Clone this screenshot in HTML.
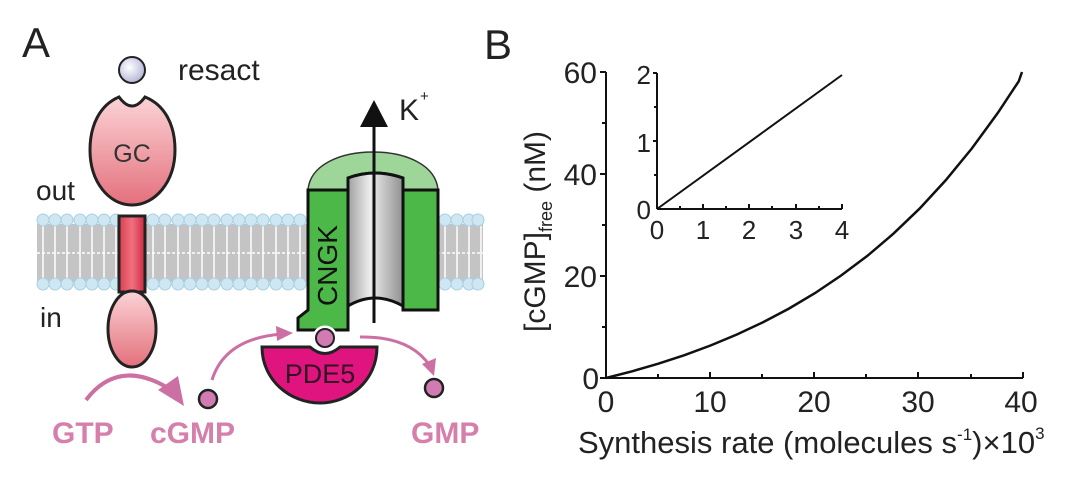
<!DOCTYPE html>
<html><head><meta charset="utf-8"><style>
html,body{margin:0;padding:0;background:#fff;}
svg{display:block;font-family:"Liberation Sans",Arial,sans-serif;}
</style></head><body>
<svg width="1088" height="480" viewBox="0 0 1088 480" xmlns="http://www.w3.org/2000/svg">
<defs>
<linearGradient id="gc" x1="0" y1="0" x2="0" y2="1"><stop offset="0" stop-color="#fbd3d6"/><stop offset="1" stop-color="#e4707c"/></linearGradient>
<linearGradient id="tm" x1="0" y1="0" x2="1" y2="0"><stop offset="0" stop-color="#d8404e"/><stop offset="0.5" stop-color="#f07080"/><stop offset="1" stop-color="#d02840"/></linearGradient>
<linearGradient id="pore" x1="0" y1="0" x2="1" y2="0"><stop offset="0" stop-color="#a0a0a0"/><stop offset="0.4" stop-color="#eeeeee"/><stop offset="1" stop-color="#909090"/></linearGradient>
<radialGradient id="res" cx="0.4" cy="0.4" r="0.6"><stop offset="0" stop-color="#ffffff"/><stop offset="1" stop-color="#b8b8d8"/></radialGradient>
</defs>

<text x="22" y="57" font-size="42" fill="#222">A</text>
<text x="484" y="59" font-size="42" fill="#222">B</text>

<!-- membrane -->
<rect x="37" y="224" width="446" height="58" fill="#c4c4c4"/>
<g stroke="#fff" stroke-width="1.5">
<path d="M43 226 V280 M55 226 V280 M67 226 V280 M80 226 V280 M92 226 V280 M104 226 V280 M116 226 V280 M153 226 V280 M165 226 V280 M178 226 V280 M190 226 V280 M202 226 V280 M214 226 V280 M227 226 V280 M239 226 V280 M251 226 V280 M263 226 V280 M276 226 V280 M288 226 V280 M300 226 V280 M445 226 V280 M457 226 V280 M469 226 V280 M481 226 V280"/>
</g>
<line x1="37" y1="253" x2="483" y2="253" stroke="#fff" stroke-width="1.5" stroke-dasharray="3,2"/>
<g fill="#cfe7f3" stroke="#a8cfe2" stroke-width="1">
<circle cx="43" cy="220" r="6"/><circle cx="55" cy="220" r="6"/><circle cx="67" cy="220" r="6"/><circle cx="80" cy="220" r="6"/><circle cx="92" cy="220" r="6"/><circle cx="104" cy="220" r="6"/><circle cx="116" cy="220" r="6"/><circle cx="153" cy="220" r="6"/><circle cx="165" cy="220" r="6"/><circle cx="178" cy="220" r="6"/><circle cx="190" cy="220" r="6"/><circle cx="202" cy="220" r="6"/><circle cx="214" cy="220" r="6"/><circle cx="227" cy="220" r="6"/><circle cx="239" cy="220" r="6"/><circle cx="251" cy="220" r="6"/><circle cx="263" cy="220" r="6"/><circle cx="276" cy="220" r="6"/><circle cx="288" cy="220" r="6"/><circle cx="300" cy="220" r="6"/><circle cx="445" cy="220" r="6"/><circle cx="457" cy="220" r="6"/><circle cx="469" cy="220" r="6"/><circle cx="478" cy="220" r="6"/>
<circle cx="43" cy="284" r="6"/><circle cx="55" cy="284" r="6"/><circle cx="67" cy="284" r="6"/><circle cx="80" cy="284" r="6"/><circle cx="92" cy="284" r="6"/><circle cx="104" cy="284" r="6"/><circle cx="116" cy="284" r="6"/><circle cx="153" cy="284" r="6"/><circle cx="165" cy="284" r="6"/><circle cx="178" cy="284" r="6"/><circle cx="190" cy="284" r="6"/><circle cx="202" cy="284" r="6"/><circle cx="214" cy="284" r="6"/><circle cx="227" cy="284" r="6"/><circle cx="239" cy="284" r="6"/><circle cx="251" cy="284" r="6"/><circle cx="263" cy="284" r="6"/><circle cx="276" cy="284" r="6"/><circle cx="288" cy="284" r="6"/><circle cx="300" cy="284" r="6"/><circle cx="445" cy="284" r="6"/><circle cx="457" cy="284" r="6"/><circle cx="469" cy="284" r="6"/><circle cx="478" cy="284" r="6"/>
</g>

<!-- GC -->
<circle cx="132" cy="70" r="13" fill="url(#res)" stroke="#222" stroke-width="2"/>
<text x="178" y="80" font-size="30" fill="#222">resact</text>
<path d="M119,97 Q132,115 145,97 C165,105 175,125 175,150 C175,182 155,205 132,205 C109,205 90,182 90,150 C90,125 100,105 119,97 Z" fill="url(#gc)" stroke="#222" stroke-width="3"/>
<text x="132" y="162" font-size="25" fill="#333" text-anchor="middle">GC</text>
<text x="36" y="200" font-size="28" fill="#222">out</text>
<text x="40" y="327" font-size="28" fill="#222">in</text>
<rect x="119" y="216" width="26" height="76" fill="url(#tm)" stroke="#222" stroke-width="3"/>
<ellipse cx="132" cy="329" rx="24" ry="38" fill="url(#gc)" stroke="#222" stroke-width="3"/>

<!-- CNGK -->
<path d="M308,190 C310,165 340,152 373,152 C406,152 436,165 438,190 Z" fill="#9ed69a" stroke="#333" stroke-width="1.5"/>
<path d="M308,190 H348 V178 Q375,168 403,178 V190 H438" fill="none" stroke="#111" stroke-width="3"/>
<path d="M348,190 V178 Q375,168 403,178 V306 Q375,290 348,306 Z" fill="url(#pore)" stroke="#111" stroke-width="3"/>
<path d="M308,190 H348 V330 H298 V318 L308,310 Z" fill="#4cb848" stroke="#111" stroke-width="3"/>
<rect x="403" y="190" width="35" height="120" fill="#4cb848" stroke="#111" stroke-width="3"/>
<text transform="translate(337,306) rotate(-90)" font-size="28" fill="#111">CNGK</text>
<line x1="374" y1="323" x2="374" y2="125" stroke="#111" stroke-width="3"/>
<path d="M360,127 L374,100 L388,127 Z" fill="#111"/>
<text x="399" y="120" font-size="30" fill="#222">K</text>
<text x="420" y="101" font-size="15" fill="#222">+</text>

<!-- PDE5 -->
<path d="M262,347 H310 Q325,360 340,347 H377 C377,380 350,403 320,403 C290,403 262,380 262,347 Z" fill="#e0147e" stroke="#222" stroke-width="3"/>
<text x="320" y="383" font-size="27" fill="#331022" text-anchor="middle">PDE5</text>
<circle cx="325" cy="338" r="11" fill="#d27bb3" stroke="#fff" stroke-width="3"/>
<circle cx="325" cy="338" r="9" fill="#d27bb3" stroke="#222" stroke-width="2"/>

<!-- arrows -->
<path d="M86,400 Q118,358 168,388" fill="none" stroke="#cc6fa2" stroke-width="4"/>
<path d="M158,390 L184,406 L178,376 Z" fill="#cc6fa2"/>
<path d="M212,380 Q225,338 283,334" fill="none" stroke="#cc6fa2" stroke-width="3"/>
<path d="M276,326 L293,333 L277,341 Z" fill="#cc6fa2"/>
<path d="M360,337 Q410,336 430,366" fill="none" stroke="#cc6fa2" stroke-width="3"/>
<path d="M422,364 L434,376 L436,358 Z" fill="#cc6fa2"/>
<circle cx="208" cy="399" r="9" fill="#d27bb3" stroke="#222" stroke-width="2.5"/>
<circle cx="434" cy="388" r="9" fill="#d27bb3" stroke="#222" stroke-width="2.5"/>
<g font-size="30" font-weight="bold" fill="#d67fab">
<text x="52" y="443">GTP</text><text x="150" y="443">cGMP</text><text x="411" y="443">GMP</text>
</g>

<!-- Panel B -->
<g stroke="#111" stroke-width="2" fill="none">
<line x1="606" y1="72" x2="606" y2="378"/>
<line x1="606" y1="378" x2="1023" y2="378"/>
<path d="M600,72 H606 M600,174 H606 M600,276 H606 M600,378 H606 M602,123 H606 M602,225 H606 M602,327 H606"/>
<path d="M710,378 V372 M814,378 V372 M918,378 V372 M1023,378 V372 M658,378 V374 M762,378 V374 M866,378 V374 M971,378 V374"/>
<path d="M606,378 L632.1,371.3 L658.3,363.7 L684.4,355.2 L710.5,345.5 L736.6,334.6 L762.8,322.4 L788.9,308.6 L815,293.1 L841.1,275.5 L867.3,255.9 L893.4,233.7 L919.5,208.7 L945.6,180.4 L971.8,148.5 L997.9,112.8 L1018.8,81.2 L1022,72" stroke-width="2.5"/>
</g>
<g font-size="30" fill="#222">
<text x="597" y="83" text-anchor="end">60</text>
<text x="597" y="185" text-anchor="end">40</text>
<text x="597" y="287" text-anchor="end">20</text>
<text x="599" y="389" text-anchor="end">0</text>
<text x="606" y="412" text-anchor="middle">0</text>
<text x="710" y="412" text-anchor="middle">10</text>
<text x="814" y="412" text-anchor="middle">20</text>
<text x="918" y="412" text-anchor="middle">30</text>
<text x="1021" y="412" text-anchor="middle">40</text>
<text x="578" y="453" font-size="31">Synthesis rate (molecules s<tspan font-size="17" dy="-13">-1</tspan><tspan dy="13">)×10</tspan><tspan font-size="17" dy="-14">3</tspan></text>
<text transform="translate(545,332) rotate(-90)">[cGMP]<tspan font-size="18" dy="7">free</tspan><tspan dy="-7"> (nM)</tspan></text>
</g>
<!-- inset -->
<g stroke="#111" stroke-width="2" fill="none">
<line x1="657" y1="73" x2="657" y2="209"/>
<line x1="657" y1="209" x2="842" y2="209"/>
<path d="M653,73 H657 M653,141 H657 M654,107 H657 M654,175 H657"/>
<path d="M703,209 V204 M749,209 V204 M796,209 V204 M842,209 V204 M680,209 V206 M726,209 V206 M772,209 V206 M819,209 V206"/>
<line x1="657" y1="209" x2="842" y2="75"/>
</g>
<g font-size="26" fill="#222">
<text x="651" y="84" text-anchor="end">2</text>
<text x="651" y="152" text-anchor="end">1</text>
<text x="651" y="219" text-anchor="end">0</text>
<text x="657" y="239" text-anchor="middle">0</text>
<text x="703" y="239" text-anchor="middle">1</text>
<text x="749" y="239" text-anchor="middle">2</text>
<text x="796" y="239" text-anchor="middle">3</text>
<text x="842" y="239" text-anchor="middle">4</text>
</g>
</svg>
</body></html>
